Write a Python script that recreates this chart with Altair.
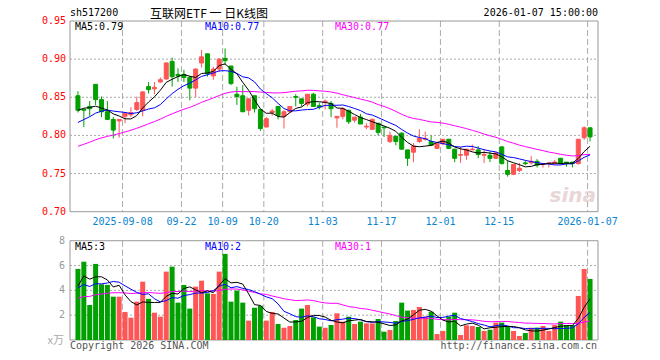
import altair as alt
import pandas as pd

# ---------------- data ----------------
HOLIDAYS = ["2025-10-01", "2025-10-02", "2025-10-03", "2025-10-06", "2025-10-07",
            "2025-10-08", "2026-01-01", "2026-01-02"]
ALL_DAYS = [d.strftime("%Y-%m-%d") for d in pd.bdate_range("2025-08-27", "2026-01-07")]
DATES = [d for d in ALL_DAYS if d not in HOLIDAYS]

OPEN = [0.852, 0.834, 0.838, 0.867, 0.847, 0.831, 0.821, 0.819, 0.825, 0.827,
        0.834, 0.833, 0.864, 0.861, 0.870, 0.874, 0.897, 0.880, 0.880, 0.876,
        0.862, 0.895, 0.907, 0.878, 0.887, 0.901, 0.891, 0.854, 0.852, 0.833,
        0.852, 0.834, 0.811, 0.830, 0.838, 0.825, 0.831, 0.851, 0.848, 0.841,
        0.854, 0.839, 0.844, 0.842, 0.823, 0.825, 0.833, 0.820, 0.824, 0.811,
        0.808, 0.816, 0.811, 0.792, 0.799, 0.803, 0.781, 0.778, 0.792, 0.795,
        0.792, 0.783, 0.789, 0.795, 0.782, 0.774, 0.774, 0.781, 0.781, 0.774,
        0.774, 0.770, 0.785, 0.754, 0.749, 0.754, 0.764, 0.764, 0.766, 0.762,
        0.763, 0.763, 0.770, 0.765, 0.765, 0.763, 0.797, 0.810]
HIGH = [0.858, 0.835, 0.845, 0.867, 0.851, 0.845, 0.824, 0.821, 0.830, 0.837,
        0.851, 0.858, 0.870, 0.870, 0.876, 0.896, 0.902, 0.888, 0.886, 0.878,
        0.888, 0.912, 0.907, 0.890, 0.901, 0.914, 0.891, 0.864, 0.866, 0.848,
        0.852, 0.834, 0.824, 0.835, 0.838, 0.833, 0.838, 0.854, 0.848, 0.854,
        0.856, 0.843, 0.847, 0.845, 0.825, 0.837, 0.833, 0.824, 0.828, 0.816,
        0.822, 0.816, 0.811, 0.805, 0.799, 0.804, 0.781, 0.790, 0.808, 0.805,
        0.800, 0.790, 0.795, 0.795, 0.782, 0.785, 0.782, 0.788, 0.786, 0.781,
        0.779, 0.778, 0.785, 0.767, 0.762, 0.764, 0.767, 0.773, 0.769, 0.763,
        0.765, 0.768, 0.770, 0.765, 0.765, 0.795, 0.812, 0.810]
LOW = [0.830, 0.811, 0.825, 0.840, 0.824, 0.820, 0.796, 0.797, 0.816, 0.824,
       0.832, 0.825, 0.855, 0.854, 0.869, 0.873, 0.864, 0.870, 0.870, 0.846,
       0.850, 0.889, 0.877, 0.873, 0.883, 0.892, 0.866, 0.840, 0.831, 0.826,
       0.830, 0.806, 0.811, 0.826, 0.821, 0.809, 0.830, 0.838, 0.838, 0.838,
       0.838, 0.834, 0.834, 0.824, 0.810, 0.821, 0.815, 0.817, 0.815, 0.808,
       0.807, 0.800, 0.798, 0.790, 0.787, 0.781, 0.760, 0.765, 0.790, 0.793,
       0.786, 0.782, 0.787, 0.782, 0.765, 0.764, 0.768, 0.781, 0.770, 0.764,
       0.765, 0.769, 0.762, 0.746, 0.748, 0.752, 0.761, 0.762, 0.758, 0.758,
       0.758, 0.762, 0.762, 0.759, 0.758, 0.762, 0.794, 0.792]
CLOSE = [0.833, 0.833, 0.835, 0.847, 0.831, 0.821, 0.807, 0.821, 0.829, 0.830,
         0.843, 0.857, 0.860, 0.863, 0.873, 0.895, 0.877, 0.878, 0.876, 0.862,
         0.887, 0.903, 0.881, 0.887, 0.900, 0.898, 0.868, 0.851, 0.831, 0.848,
         0.835, 0.809, 0.822, 0.832, 0.826, 0.831, 0.838, 0.850, 0.842, 0.854,
         0.838, 0.837, 0.845, 0.835, 0.825, 0.835, 0.818, 0.824, 0.815, 0.812,
         0.821, 0.804, 0.810, 0.800, 0.792, 0.782, 0.770, 0.786, 0.796, 0.796,
         0.787, 0.789, 0.795, 0.783, 0.770, 0.775, 0.782, 0.782, 0.775, 0.775,
         0.770, 0.777, 0.763, 0.749, 0.762, 0.757, 0.763, 0.766, 0.761, 0.763,
         0.764, 0.765, 0.763, 0.763, 0.763, 0.795, 0.810, 0.798]
VOLUME = [5.73, 6.31, 2.82, 6.13, 4.49, 4.44, 3.49, 3.49, 2.26, 1.80,
          3.09, 4.70, 3.31, 2.20, 1.88, 5.51, 5.91, 3.01, 4.44, 2.53,
          4.30, 4.78, 3.76, 3.71, 5.51, 6.94, 3.09, 3.98, 3.01, 1.56,
          2.60, 2.77, 1.56, 2.26, 1.29, 0.99, 1.13, 1.61, 2.53, 2.82,
          1.83, 1.08, 0.99, 1.21, 2.15, 1.48, 1.88, 1.29, 1.48, 1.34,
          1.34, 1.69, 0.67, 0.81, 1.53, 3.01, 2.37, 2.42, 2.66, 1.88,
          2.28, 0.48, 0.73, 1.88, 2.20, 0.40, 1.18, 1.13, 1.05, 0.73,
          0.83, 1.40, 1.40, 1.08, 0.73, 0.32, 0.56, 0.99, 1.00, 1.13,
          0.73, 1.20, 1.48, 1.21, 1.21, 3.55, 5.73, 4.92]
# estimated closes / volumes of the 29 sessions before the first one shown (for the MAs)
PRIOR_CLOSE = [0.752, 0.755, 0.750, 0.758, 0.760, 0.757, 0.762, 0.765, 0.760, 0.768,
               0.772, 0.770, 0.775, 0.778, 0.782, 0.780, 0.785, 0.788, 0.790, 0.794,
               0.795, 0.798, 0.800, 0.805, 0.807, 0.820, 0.830, 0.838, 0.844]
PRIOR_VOLUME = [2.1, 2.5, 1.8, 3.0, 2.6, 2.2, 3.4, 2.9, 3.1, 2.4,
                3.6, 2.8, 3.3, 2.7, 3.9, 3.2, 2.9, 3.5, 3.8, 3.1,
                3.6, 4.4, 3.9, 4.6, 3.75, 2.26, 4.1, 5.2, 4.46]

TICK_DATES = ["2025-09-08", "2025-09-22", "2025-10-09", "2025-10-20", "2025-11-03",
              "2025-11-17", "2025-12-01", "2025-12-15", "2026-01-07"]
TICK_LABELS = ["2025-09-08", "09-22", "10-09", "10-20", "11-03",
               "11-17", "12-01", "12-15", "2026-01-07"]
PRICE_TICKS = [0.70, 0.75, 0.80, 0.85, 0.90, 0.95]
PRICE_GRID = [0.75, 0.80, 0.85, 0.90]
VOL_TICKS = [2, 4, 6, 8]
VOL_GRID = [2, 4, 6]

PRICE_MA_TEXT = ["MA5:0.79", "MA10:0.77", "MA30:0.77"]
VOL_MA_TEXT = ["MA5:3", "MA10:2", "MA30:1"]
CODE = "sh517200"
TITLE = "互联网ETF 一 日K线图"
STAMP = "2026-01-07 15:00:00"
FOOT_L = "Copyright 2026 SINA.COM"
FOOT_R = "http://finance.sina.com.cn"
UNIT = "x万"

# ---------------- styles / layout ----------------
RED = "#ff5555"
GREEN = "#00a000"
MA_COLORS = ["#000000", "#0000ff", "#ff00ff"]
GRID = "#aaaaaa"
FRAME = "#999999"
MONO = "DejaVu Sans Mono"

W, H = 528, 319
P_PX = 762.8
P_TOP = 0.95
P_BOT = P_TOP - H / P_PX
PRICE_H = (0.95 - 0.70) * P_PX
V_PX = 12.41
V_TOP = H / V_PX
VOL_Y0 = H - 8 * V_PX
GRID_SHIFT = -0.42

n = len(CLOSE)
k = len(PRIOR_CLOSE)
cs = pd.Series(PRIOR_CLOSE + CLOSE)
vs = pd.Series(PRIOR_VOLUME + VOLUME)
df = pd.DataFrame({
    "i": list(range(n)), "date": DATES[:n],
    "open": OPEN, "high": HIGH, "low": LOW, "close": CLOSE, "vol": VOLUME,
    "dir": ["up" if c >= o else "down" for o, c in zip(OPEN, CLOSE)],
    "ma5": cs.rolling(5).mean().iloc[k:].values,
    "ma10": cs.rolling(10).mean().iloc[k:].values,
    "ma30": cs.rolling(30).mean().iloc[k:].values,
    "vma5": vs.rolling(5).mean().iloc[k:].values,
    "vma10": vs.rolling(10).mean().iloc[k:].values,
    "vma30": vs.rolling(30).mean().iloc[k:].values,
})

ticks = pd.DataFrame({"label": TICK_LABELS,
                      "x": [DATES.index(d) + GRID_SHIFT for d in TICK_DATES]})
one = pd.DataFrame({"a": [0]})

xs = alt.Scale(domain=[-0.5, n - 0.5], nice=False, zero=False)
ps = alt.Scale(domain=[P_BOT, P_TOP], nice=False, zero=False)
vsc = alt.Scale(domain=[0, V_TOP], nice=False, zero=False)
cscale = alt.Scale(domain=["up", "down"], range=[RED, GREEN])

X = alt.X("i:Q", scale=xs, axis=None)
COLOR = alt.Color("dir:N", scale=cscale, legend=None)
STROKE = alt.Stroke("dir:N", scale=cscale, legend=None)


def py(f):
    return alt.Y(f"{f}:Q", scale=ps, axis=None)


def vy(f):
    return alt.Y(f"{f}:Q", scale=vsc, axis=None)


def ptext(text, x, y, color="#000", size=10, align="left", font=MONO, **kw):
    return alt.Chart(one).mark_text(text=text, align=align, baseline="middle", font=font,
                                    fontSize=size, color=color, **kw).encode(
        x=alt.value(x), y=alt.value(y))


# ---------------- price panel ----------------
p_hgrid = alt.Chart(pd.DataFrame({"p": PRICE_GRID})).mark_rule(
    color=GRID, strokeDash=[2, 2], strokeWidth=1).encode(
    y=py("p"), x=alt.value(0), x2=alt.value(W))
p_vgrid = alt.Chart(ticks).mark_rule(color=GRID, strokeDash=[6, 3], strokeWidth=1).encode(
    x=alt.X("x:Q", scale=xs, axis=None), y=alt.value(0), y2=alt.value(PRICE_H))
p_frame = alt.Chart(one).mark_rect(filled=False, stroke=FRAME, strokeWidth=1).encode(
    x=alt.value(0), x2=alt.value(W), y=alt.value(0), y2=alt.value(PRICE_H))
wick = alt.Chart(df).mark_rule(strokeWidth=1).encode(x=X, y=py("low"), y2=alt.Y2("high"), color=STROKE)
body = alt.Chart(df).mark_bar(size=4, strokeWidth=1).encode(
    x=X, y=py("open"), y2=alt.Y2("close"), color=COLOR, stroke=STROKE)
ma_lines = [alt.Chart(df).mark_line(color=c, strokeWidth=1).encode(x=X, y=py(f))
            for f, c in zip(["ma30", "ma10", "ma5"], MA_COLORS[::-1])]
p_labels = alt.Chart(pd.DataFrame({"p": PRICE_TICKS,
                                   "t": [f"{v:.2f}" for v in PRICE_TICKS]})).mark_text(
    align="right", baseline="middle", font=MONO, fontSize=10, color="#ff0000").encode(
    y=py("p"), x=alt.value(-4), text="t:N")
d_labels = alt.Chart(ticks).mark_text(align="center", baseline="middle", font=MONO,
                                      fontSize=10, color="#0a84d0").encode(
    x=alt.X("x:Q", scale=xs, axis=None), y=alt.value(PRICE_H + 10), text="label:N")
p_ma_txt = [ptext(t, x, 6, c) for t, x, c in zip(PRICE_MA_TEXT, [5, 135, 265], MA_COLORS)]
logo = ptext("sina", 526, 175, "#e9d6d6", size=20, align="right",
             font="DejaVu Sans", fontStyle="italic", fontWeight="bold")
head = [ptext(CODE, 0, -8), ptext(TITLE, 80, -7, size=12, font="Noto Sans CJK SC"),
        ptext(STAMP, W, -8, align="right")]

price = alt.layer(p_hgrid, p_vgrid, p_frame, logo, wick, body, *ma_lines, p_labels, d_labels,
                  *p_ma_txt, *head)

# ---------------- volume panel ----------------
v_hgrid = alt.Chart(pd.DataFrame({"v": VOL_GRID})).mark_rule(
    color=GRID, strokeDash=[2, 2], strokeWidth=1).encode(
    y=vy("v"), x=alt.value(0), x2=alt.value(W))
v_vgrid = alt.Chart(ticks).mark_rule(color=GRID, strokeDash=[6, 3], strokeWidth=1).encode(
    x=alt.X("x:Q", scale=xs, axis=None), y=alt.value(VOL_Y0), y2=alt.value(H))
v_frame = alt.Chart(one).mark_rect(filled=False, stroke=FRAME, strokeWidth=1).encode(
    x=alt.value(0), x2=alt.value(W), y=alt.value(VOL_Y0), y2=alt.value(H))
vbars = alt.Chart(df).mark_bar(size=5).encode(x=X, y=vy("vol"), color=COLOR)
vma_lines = [alt.Chart(df).mark_line(color=c, strokeWidth=1).encode(x=X, y=vy(f))
             for f, c in zip(["vma30", "vma10", "vma5"], MA_COLORS[::-1])]
v_labels = alt.Chart(pd.DataFrame({"v": VOL_TICKS, "t": [str(v) for v in VOL_TICKS]})).mark_text(
    align="right", baseline="middle", font=MONO, fontSize=10, color="#999999").encode(
    y=vy("v"), x=alt.value(-5), text="t:N")
v_ma_txt = [ptext(t, x, VOL_Y0 + 6, c) for t, x, c in zip(VOL_MA_TEXT, [5, 135, 265], MA_COLORS)]
foot = [ptext(UNIT, -6, H + 1, "#aaaaaa", size=11, align="right", font="Noto Sans CJK SC"),
        ptext(FOOT_L, 0, H + 6, "#555555"), ptext(FOOT_R, W - 1, H + 6, "#555555", align="right")]

volume = alt.layer(v_hgrid, v_vgrid, v_frame, vbars, *vma_lines, v_labels, *v_ma_txt, *foot)

chart = alt.layer(price, volume).resolve_scale(y="independent").properties(
    width=W, height=H, autosize=alt.AutoSizeParams(type="none"),
    padding={"left": 62, "top": 13, "right": 54, "bottom": 12},
).configure_view(stroke=None)

chart.save("out.html", embed_options={"renderer": "svg", "actions": False})
